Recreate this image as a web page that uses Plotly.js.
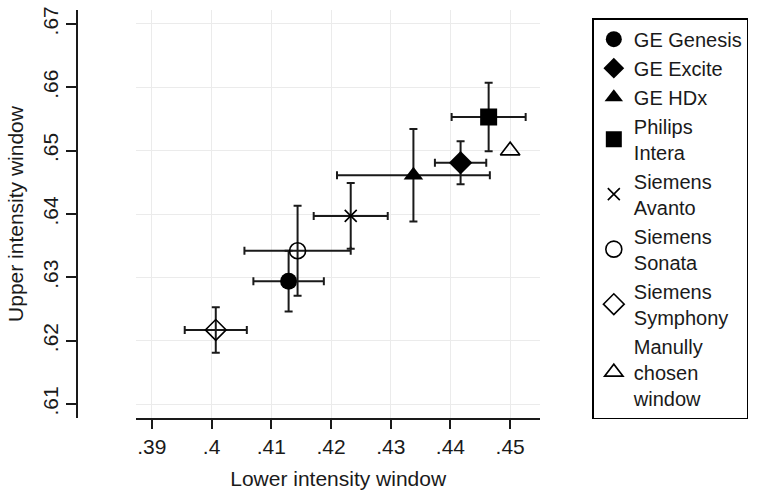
<!DOCTYPE html>
<html>
<head>
<meta charset="utf-8">
<script src="https://cdn.plot.ly/plotly-3.0.1.min.js"></script>
<style>html,body{margin:0;padding:0;background:#fff;}#chart{width:758px;height:492px;}</style>
</head>
<body>
<div id="chart"></div>
<script>
// Scanner models (legend labels)
const scanners = ["GE Genesis", "GE Excite", "GE HDx", "Philips<br>Intera", "Siemens<br>Avanto",
  "Siemens<br>Sonata", "Siemens<br>Symphony", "Manully<br>chosen<br>window"];
// Mean lower / upper intensity window per scanner
const lowerWindow = [0.4129, 0.4417, 0.4338, 0.4464, 0.4233, 0.4144, 0.4007, 0.4500];
const upperWindow = [0.6294, 0.6481, 0.6461, 0.6553, 0.6397, 0.6342, 0.6217, 0.6500];
// Error half-widths (null = no error bar)
const lowerErr = [0.0059, 0.0043, 0.0128, 0.0062, 0.0062, 0.0089, 0.0052, null];
const upperErr = [0.0048, 0.0034, 0.0073, 0.0054, 0.0052, 0.0071, 0.0036, null];
// Tick labels
const xTickVals = [0.39, 0.40, 0.41, 0.42, 0.43, 0.44, 0.45];
const xTickText = [".39", ".4", ".41", ".42", ".43", ".44", ".45"];
const yTickVals = [0.61, 0.62, 0.63, 0.64, 0.65, 0.66, 0.67];
const yTickText = [".61", ".62", ".63", ".64", ".65", ".66", ".67"];

const symbols = ["circle", "diamond", "triangle-up", "square", "x-thin-open", "circle-open", "diamond-open", "triangle-up-open"];
const sizes = [17, 18, 17, 17, 12, 16, 16, 17];
const lineWidths = [0, 0, 0, 0, 1.6, 1.6, 1.6, 1.6];

const ink = "#1a1a1a";
const traces = scanners.map((name, i) => {
  const t = {
    type: "scatter", mode: "markers", name: name,
    x: [lowerWindow[i]], y: [upperWindow[i]],
    marker: { symbol: symbols[i], size: sizes[i], color: "#000",
      line: { color: "#000", width: lineWidths[i] } },
    hoverinfo: "skip"
  };
  if (lowerErr[i] !== null) {
    t.error_x = { type: "data", array: [lowerErr[i]], visible: true, color: ink, thickness: 2, width: 4 };
    t.error_y = { type: "data", array: [upperErr[i]], visible: true, color: ink, thickness: 2, width: 4 };
  }
  return t;
});

const font = "'Liberation Sans', Arial, Helvetica, sans-serif";
const layout = {
  width: 758, height: 492,
  margin: { l: 77, r: 213, t: 10, b: 74 },
  paper_bgcolor: "#fff", plot_bgcolor: "#fff",
  font: { family: font, size: 20, color: ink },
  showlegend: true,
  xaxis: {
    domain: [0.1282, 1], anchor: "y",
    range: [0.3874, 0.4550], autorange: false,
    tickmode: "array", tickvals: xTickVals, ticktext: xTickText,
    ticks: "outside", ticklen: 9, tickwidth: 2, tickcolor: ink,
    showline: true, linewidth: 2, linecolor: ink,
    showgrid: true, gridcolor: "#ebebeb", gridwidth: 1, zeroline: false,
    tickfont: { size: 21, color: ink },
    title: { text: "Lower intensity window", font: { size: 21, color: ink }, standoff: 14 },
    automargin: false
  },
  yaxis: {
    anchor: "free", position: 0, side: "left",
    range: [0.6078, 0.6722], autorange: false,
    tickmode: "array", tickvals: yTickVals, ticktext: yTickText,
    ticks: "outside", ticklen: 10, tickwidth: 2, tickcolor: ink, tickangle: -90,
    showline: true, linewidth: 2, linecolor: ink,
    showgrid: true, gridcolor: "#ebebeb", gridwidth: 1, zeroline: false,
    tickfont: { size: 21, color: ink },
    title: { text: "Upper intensity window", font: { size: 21, color: ink }, standoff: 8 },
    automargin: false
  },
  legend: {
    x: 1.113, xanchor: "left", y: 0.98, yanchor: "top",
    bgcolor: "#fff", bordercolor: "#000", borderwidth: 1.5,
    font: { size: 20, color: ink }, valign: "middle",
    entrywidth: 140, entrywidthmode: "pixels",
    itemclick: false, itemdoubleclick: false
  }
};

Plotly.newPlot("chart", traces, layout, { displayModeBar: false, staticPlot: true });
</script>
</body>
</html>
